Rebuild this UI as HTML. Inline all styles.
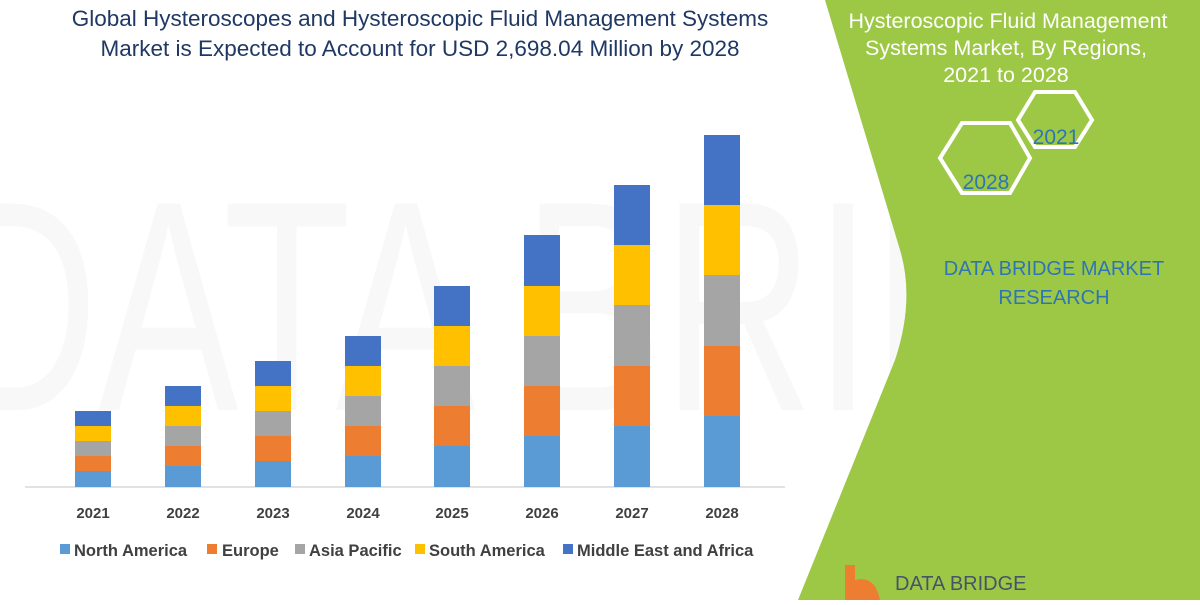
<!DOCTYPE html>
<html><head><meta charset="utf-8"><style>
body{margin:0;width:1200px;height:600px;overflow:hidden;background:#fff;font-family:"Liberation Sans",sans-serif}
</style></head><body>
<svg width="1200" height="600" xmlns="http://www.w3.org/2000/svg" font-family="Liberation Sans, sans-serif">
<rect width="1200" height="600" fill="#fff"/>
<text x="640" y="410" font-size="300" fill="#f8f8f8" text-anchor="middle" transform="scale(0.7,1) translate(270,0)">DATA BRIDGE</text>
<path d="M825,0 L1200,0 L1200,600 L798,600 L895,360 Q915,300 900,250 Z" fill="#9dc845"/>
<g fill="#fff" font-size="21.5" text-anchor="middle">
<text x="1008" y="28">Hysteroscopic Fluid Management</text>
<text x="1006" y="55">Systems Market, By Regions,</text>
<text x="1006" y="82">2021 to 2028</text>
</g>
<polygon points="1035,92 1075,92 1092,120 1075,147 1035,147 1018,120" fill="none" stroke="#fff" stroke-width="4"/>
<polygon points="962,123 1010,123 1030,158 1010,193 962,193 940,158" fill="none" stroke="#fff" stroke-width="4"/>
<text x="1056" y="144" font-size="21" fill="#2e75b6" text-anchor="middle">2021</text>
<text x="986" y="189" font-size="21" fill="#2e75b6" text-anchor="middle">2028</text>
<text x="1054" y="275" font-size="20" fill="#2e75b6" text-anchor="middle">DATA BRIDGE MARKET</text>
<text x="1054" y="304" font-size="20" fill="#2e75b6" text-anchor="middle">RESEARCH</text>
<text x="895" y="590" font-size="20" fill="#44546a">DATA BRIDGE</text>
<path d="M845,565 L855,565 L855,580 Q875,575 880,600 L845,600Z" fill="#ed7d31"/>
<g fill="#1f3864" font-size="22.5" text-anchor="middle">
<text x="420" y="26">Global Hysteroscopes and Hysteroscopic Fluid Management Systems</text>
<text x="420" y="56">Market is Expected to Account for USD 2,698.04 Million by 2028</text>
</g>
<line x1="25" y1="487" x2="785" y2="487" stroke="#d9d9d9" stroke-width="1.5"/>
<g font-size="15" font-weight="bold" fill="#404040" text-anchor="middle">
<text x="93" y="518">2021</text><text x="183" y="518">2022</text><text x="273" y="518">2023</text><text x="363" y="518">2024</text><text x="452" y="518">2025</text><text x="542" y="518">2026</text><text x="632" y="518">2027</text><text x="722" y="518">2028</text>
</g>
<g font-size="16.5" font-weight="bold" fill="#404040">
<rect x="60" y="544" width="10" height="10" fill="#5b9bd5"/><text x="74" y="556">North America</text>
<rect x="207" y="544" width="10" height="10" fill="#ed7d31"/><text x="222" y="556">Europe</text>
<rect x="295" y="544" width="10" height="10" fill="#a5a5a5"/><text x="309" y="556">Asia Pacific</text>
<rect x="415" y="544" width="10" height="10" fill="#ffc000"/><text x="429" y="556">South America</text>
<rect x="563" y="544" width="10" height="10" fill="#4472c4"/><text x="577" y="556">Middle East and Africa</text>
</g>
<g>
<rect x="75" y="471" width="36" height="16" fill="#5b9bd5"/><rect x="75" y="456" width="36" height="15" fill="#ed7d31"/><rect x="75" y="441" width="36" height="15" fill="#a5a5a5"/><rect x="75" y="426" width="36" height="15" fill="#ffc000"/><rect x="75" y="411" width="36" height="15" fill="#4472c4"/>
<rect x="165" y="466" width="36" height="21" fill="#5b9bd5"/><rect x="165" y="446" width="36" height="20" fill="#ed7d31"/><rect x="165" y="426" width="36" height="20" fill="#a5a5a5"/><rect x="165" y="406" width="36" height="20" fill="#ffc000"/><rect x="165" y="386" width="36" height="20" fill="#4472c4"/>
<rect x="255" y="461" width="36" height="26" fill="#5b9bd5"/><rect x="255" y="436" width="36" height="25" fill="#ed7d31"/><rect x="255" y="411" width="36" height="25" fill="#a5a5a5"/><rect x="255" y="386" width="36" height="25" fill="#ffc000"/><rect x="255" y="361" width="36" height="25" fill="#4472c4"/>
<rect x="345" y="456" width="36" height="31" fill="#5b9bd5"/><rect x="345" y="426" width="36" height="30" fill="#ed7d31"/><rect x="345" y="396" width="36" height="30" fill="#a5a5a5"/><rect x="345" y="366" width="36" height="30" fill="#ffc000"/><rect x="345" y="336" width="36" height="30" fill="#4472c4"/>
<rect x="434" y="446" width="36" height="41" fill="#5b9bd5"/><rect x="434" y="406" width="36" height="40" fill="#ed7d31"/><rect x="434" y="366" width="36" height="40" fill="#a5a5a5"/><rect x="434" y="326" width="36" height="40" fill="#ffc000"/><rect x="434" y="286" width="36" height="40" fill="#4472c4"/>
<rect x="524" y="436" width="36" height="51" fill="#5b9bd5"/><rect x="524" y="386" width="36" height="50" fill="#ed7d31"/><rect x="524" y="336" width="36" height="50" fill="#a5a5a5"/><rect x="524" y="286" width="36" height="50" fill="#ffc000"/><rect x="524" y="235" width="36" height="51" fill="#4472c4"/>
<rect x="614" y="426" width="36" height="61" fill="#5b9bd5"/><rect x="614" y="366" width="36" height="60" fill="#ed7d31"/><rect x="614" y="305" width="36" height="61" fill="#a5a5a5"/><rect x="614" y="245" width="36" height="60" fill="#ffc000"/><rect x="614" y="185" width="36" height="60" fill="#4472c4"/>
<rect x="704" y="416" width="36" height="71" fill="#5b9bd5"/><rect x="704" y="346" width="36" height="70" fill="#ed7d31"/><rect x="704" y="275" width="36" height="71" fill="#a5a5a5"/><rect x="704" y="205" width="36" height="70" fill="#ffc000"/><rect x="704" y="135" width="36" height="70" fill="#4472c4"/>
</g>
</svg>
</body></html>
